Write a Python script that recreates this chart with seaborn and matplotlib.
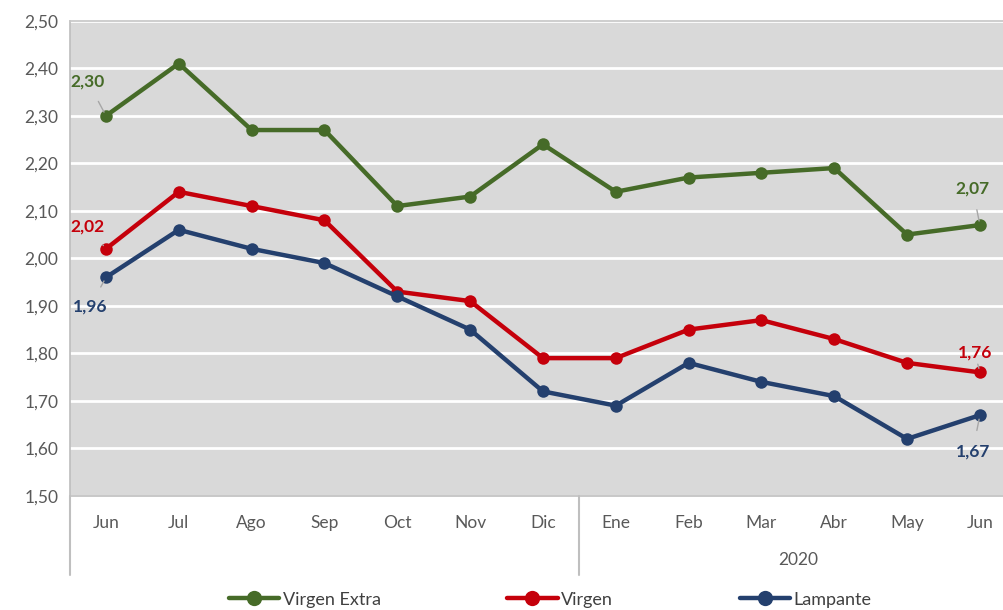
import numpy as np
import pandas as pd
import matplotlib
matplotlib.use('Agg')
import matplotlib.pyplot as plt
import matplotlib.transforms as mtransforms
import seaborn as sns

months = ['Jun', 'Jul', 'Ago', 'Sep', 'Oct', 'Nov', 'Dic',
          'Ene', 'Feb', 'Mar', 'Abr', 'May', 'Jun']
year_label = '2020'
virgen_extra = [2.30, 2.41, 2.27, 2.27, 2.11, 2.13, 2.24, 2.14, 2.17, 2.18, 2.19, 2.05, 2.07]
virgen = [2.02, 2.14, 2.11, 2.08, 1.93, 1.91, 1.79, 1.79, 1.85, 1.87, 1.83, 1.78, 1.76]
lampante = [1.96, 2.06, 2.02, 1.99, 1.92, 1.85, 1.72, 1.69, 1.78, 1.74, 1.71, 1.62, 1.67]
series_names = ['Virgen Extra', 'Virgen', 'Lampante']
colors = ['#466b28', '#c5000b', '#24406e']

sns.set_theme(style='white')
plt.rcParams['font.family'] = ['Lato', 'DejaVu Sans']

df = pd.DataFrame({
    'idx': np.tile(np.arange(len(months)), 3),
    'valor': virgen_extra + virgen + lampante,
    'serie': np.repeat(series_names, len(months)),
})

fig = plt.figure(figsize=(10.04, 6.10), dpi=100)
# the plot area runs past the right edge of the picture, as in the source
ax = fig.add_axes([0.0693, 0.187, 0.943, 0.779])
ax.set_facecolor('#d9d9d9')

sns.lineplot(data=df, x='idx', y='valor', hue='serie', hue_order=series_names,
             palette=colors, style='serie', markers=['o', 'o', 'o'], dashes=False,
             linewidth=3.2, markersize=9, markeredgewidth=0, ax=ax, zorder=3)

ax.set_xlim(-0.5, len(months) - 0.5)
ax.set_ylim(1.5, 2.5)
yt = np.round(np.arange(1.5, 2.51, 0.1), 2)
ax.set_yticks(yt)
ax.set_yticklabels([f'{v:.2f}'.replace('.', ',') for v in yt], color='#595959', fontsize=12.5)
ax.set_xticks(range(len(months)))
ax.set_xticklabels(months, color='#595959', fontsize=12.5)
ax.tick_params(axis='x', length=0, pad=14)
ax.tick_params(axis='y', length=0, pad=8)
ax.set_xlabel('')
ax.set_ylabel('')
ax.grid(axis='y', color='white', linewidth=2)
ax.set_axisbelow(True)
ax.spines['right'].set_visible(False)
ax.spines['top'].set_color('#c8c8c8')
ax.spines['left'].set_color('#bfbfbf')
ax.spines['bottom'].set_color('#bfbfbf')
ax.spines['bottom'].set_linewidth(1.2)

# category group separators below the axis
trans = mtransforms.blended_transform_factory(ax.transData, ax.transAxes)
for xv in [-0.5, 6.5]:
    ax.plot([xv, xv], [0, -0.166], transform=trans, color='#bfbfbf',
            linewidth=1.5, clip_on=False)
ax.text(9.5, -0.135, year_label, transform=trans, ha='center', va='center',
        color='#595959', fontsize=12.5)

# data labels at the start and end of each series
labels = [
    (0, virgen_extra[0], colors[0], (-0.25, 2.372)),
    (0, virgen[0], colors[1], (-0.25, 2.068)),
    (0, lampante[0], colors[2], (-0.22, 1.898)),
    (12, virgen_extra[12], colors[0], (11.9, 2.146)),
    (12, virgen[12], colors[1], (11.93, 1.801)),
    (12, lampante[12], colors[2], (11.9, 1.594)),
]
for xi, yv, c, (tx, ty) in labels:
    ax.annotate(f'{yv:.2f}'.replace('.', ','), xy=(xi, yv), xytext=(tx, ty),
                ha='center', va='center', color=c, fontsize=12.5, fontweight='bold',
                arrowprops=dict(arrowstyle='-', color='#a6a6a6', lw=1,
                                shrinkA=7, shrinkB=3), zorder=5)

handles, lbls = ax.get_legend_handles_labels()
ax.get_legend().remove()
for h in handles:
    h.set_markersize(11)
fig.legend(handles, lbls, loc='center', bbox_to_anchor=(0.548, 0.017), ncol=3,
           frameon=False, fontsize=13, handlelength=2.8, columnspacing=7,
           handletextpad=0.2, labelcolor='#404040')

fig.savefig('out.png', dpi=100)
